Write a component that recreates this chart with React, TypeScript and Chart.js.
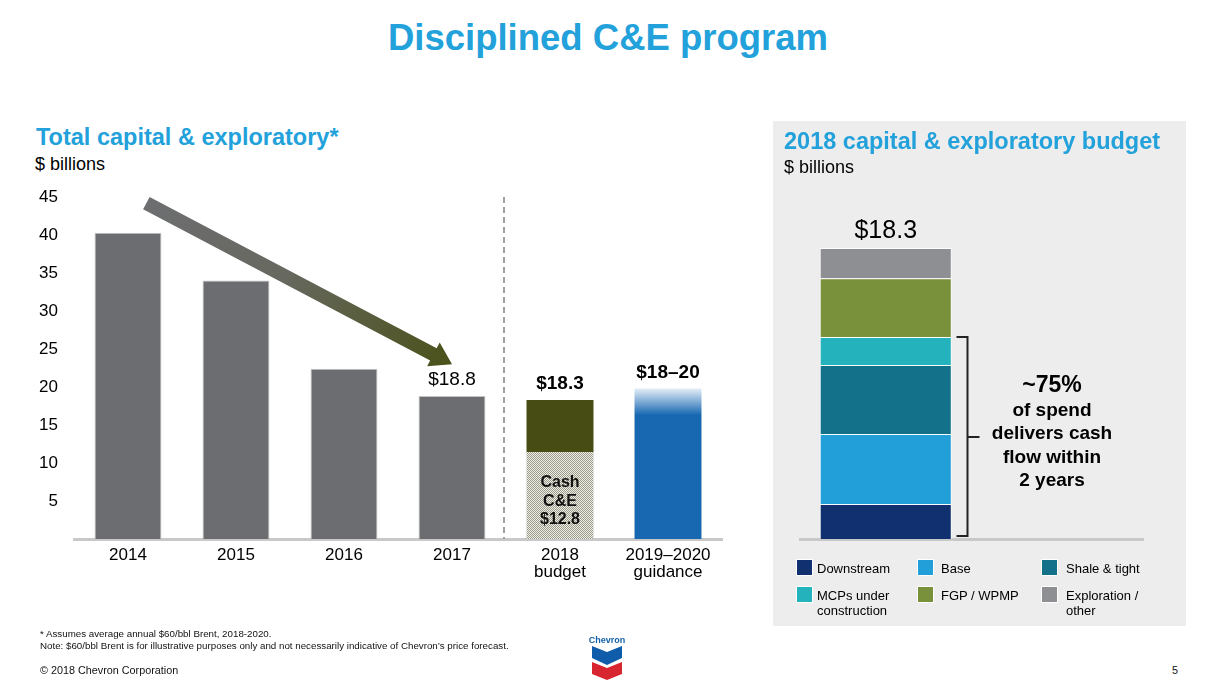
import React, { useEffect, useRef } from "react";
import { Chart, registerables } from "chart.js";
Chart.register(...registerables);

const FONT = "Arial, 'Liberation Sans', Helvetica, sans-serif";
const BLUE_TITLE = "#22a1db";

// ---------- Left chart data ----------
const periodLabels: string[][] = [["2014"], ["2015"], ["2016"], ["2017"], ["2018", "budget"], ["2019–2020", "guidance"]];
const yTicks = [5, 10, 15, 20, 25, 30, 35, 40, 45];
const actualSpend = [40.3, 34.0, 22.4, 18.8, null, null];
const budgetCashPart = [null, null, null, null, 11.4, null];
const budgetOtherPart = [null, null, null, null, 6.9, null];
const guidanceTop = [null, null, null, null, null, 19.8];
const guidanceSolidUpTo = 16.3;
const barValueLabels = ["", "", "", "$18.8", "$18.3", "$18–20"];
const barValueBold = [false, false, false, false, true, true];
const cashLabelLines = ["Cash", "C&E", "$12.8"];
const trendArrowFrom = { index: 0.17, value: 44.2 };
const trendArrowTo = { index: 3, value: 23.0 };

// ---------- Right chart data ----------
const budgetCategories = ["Downstream", "Base", "Shale & tight", "MCPs under construction", "FGP / WPMP", "Exploration / other"];
const budgetLegendLines = [["Downstream"], ["Base"], ["Shale & tight"], ["MCPs under", "construction"], ["FGP / WPMP"], ["Exploration /", "other"]];
const budgetValues = [2.2, 4.4, 4.35, 1.75, 3.7, 1.9];
const budgetColors = ["#10306f", "#229fd9", "#14718a", "#24b2bc", "#79913a", "#8d8f93"];
const budgetTotalLabel = "$18.3";
const bracketSegmentCount = 4;
const cashFlowText = ["~75%", "of spend", "delivers cash", "flow within", "2 years"];

const sumNum = (arr: (number | null)[]) => arr.reduce((a: number, b) => a + (b ?? 0), 0);

function makeDotPattern(ctx: CanvasRenderingContext2D) {
  const c = document.createElement("canvas");
  c.width = 2;
  c.height = 2;
  const p = c.getContext("2d")!;
  p.fillStyle = "#f0efe6";
  p.fillRect(0, 0, 2, 2);
  p.fillStyle = "#9a9a8c";
  p.fillRect(0, 0, 1, 1);
  p.fillRect(1, 1, 1, 1);
  return ctx.createPattern(c, "repeat")!;
}

const leftDecor = {
  id: "leftDecor",
  afterDatasetsDraw(chart: any) {
    const { ctx, chartArea, scales } = chart;
    const x = scales.x, y = scales.y;
    ctx.save();
    // dashed divider between actuals and outlook
    const dx = Math.round((x.getPixelForValue(3) + x.getPixelForValue(4)) / 2) - 2;
    ctx.strokeStyle = "#a0a0a0";
    ctx.lineWidth = 2;
    ctx.setLineDash([6, 4]);
    ctx.beginPath();
    ctx.moveTo(dx, chartArea.top);
    ctx.lineTo(dx, chartArea.bottom);
    ctx.stroke();
    ctx.setLineDash([]);

    // trend arrow
    const x0 = x.getPixelForValue(trendArrowFrom.index), y0 = y.getPixelForValue(trendArrowFrom.value);
    const x1 = x.getPixelForValue(trendArrowTo.index), y1 = y.getPixelForValue(trendArrowTo.value);
    const ang = Math.atan2(y1 - y0, x1 - x0);
    const len = Math.hypot(x1 - x0, y1 - y0);
    const shaftW = 14, headL = 21, headW = 27;
    ctx.save();
    ctx.translate(x0, y0);
    ctx.rotate(ang);
    const g = ctx.createLinearGradient(0, 0, len, 0);
    g.addColorStop(0, "#6d6e70");
    g.addColorStop(0.45, "#67685f");
    g.addColorStop(1, "#4a5119");
    ctx.fillStyle = g;
    ctx.beginPath();
    ctx.moveTo(0, -shaftW / 2);
    ctx.lineTo(len - headL, -shaftW / 2);
    ctx.lineTo(len - headL, -headW / 2);
    ctx.lineTo(len, 0);
    ctx.lineTo(len - headL, headW / 2);
    ctx.lineTo(len - headL, shaftW / 2);
    ctx.lineTo(0, shaftW / 2);
    ctx.closePath();
    ctx.fill();
    ctx.restore();

    // value labels
    ctx.fillStyle = "#000";
    ctx.textAlign = "center";
    ctx.textBaseline = "middle";
    barValueLabels.forEach((t, i) => {
      if (!t) return;
      const total = (actualSpend[i] ?? 0) + (budgetCashPart[i] ?? 0) + (budgetOtherPart[i] ?? 0) + (guidanceTop[i] ?? 0);
      ctx.font = `${barValueBold[i] ? "bold " : ""}19px ${FONT}`;
      ctx.fillText(t, x.getPixelForValue(i), y.getPixelForValue(total) - 16);
    });

    // cash label inside the 2018 bar
    const ci = budgetCashPart.findIndex((v) => v != null);
    const cy = y.getPixelForValue((budgetCashPart[ci] as number) / 2);
    ctx.font = `bold 16px ${FONT}`;
    ctx.fillStyle = "#111";
    cashLabelLines.forEach((t, k) => ctx.fillText(t, x.getPixelForValue(ci), cy - 13 + k * 18.5));
    ctx.restore();
  },
};

const rightDecor = {
  id: "rightDecor",
  afterDatasetsDraw(chart: any) {
    const { ctx, scales } = chart;
    const x = scales.x, y = scales.y;
    const total = sumNum(budgetValues);
    ctx.save();
    ctx.font = `25px ${FONT}`;
    ctx.fillStyle = "#000";
    ctx.textAlign = "center";
    ctx.textBaseline = "middle";
    ctx.fillText(budgetTotalLabel, x.getPixelForValue(0), y.getPixelForValue(total) - 17);

    const bar = chart.getDatasetMeta(0).data[0];
    const right = bar.x + bar.width / 2;
    const bx = Math.round(right + 15) + 0.5;
    const top = y.getPixelForValue(sumNum(budgetValues.slice(0, bracketSegmentCount)));
    const bottom = y.getPixelForValue(0) - 3;
    ctx.strokeStyle = "#222";
    ctx.lineWidth = 2;
    ctx.beginPath();
    ctx.moveTo(bx - 11, top);
    ctx.lineTo(bx, top);
    ctx.lineTo(bx, bottom);
    ctx.lineTo(bx - 11, bottom);
    const mid = Math.round((top + bottom) / 2);
    ctx.moveTo(bx, mid);
    ctx.lineTo(bx + 12, mid);
    ctx.stroke();
    ctx.restore();
  },
};

export default function App() {
  const leftRef = useRef<HTMLCanvasElement>(null);
  const rightRef = useRef<HTMLCanvasElement>(null);

  useEffect(() => {
    Chart.defaults.font.family = FONT;
    Chart.defaults.color = "#000";
    const lc = leftRef.current!;
    const rc = rightRef.current!;
    const pattern = makeDotPattern(lc.getContext("2d")!);
    const guidanceIdx = guidanceTop.findIndex((v) => v != null);

    const left = new Chart(lc, {
      type: "bar",
      data: {
        labels: periodLabels,
        datasets: [
          { label: "Actual", data: actualSpend, backgroundColor: "#6c6d70", borderColor: "#c4c4c4", borderWidth: 1, stack: "s" },
          { label: "Cash C&E", data: budgetCashPart, backgroundColor: pattern as any, stack: "s" },
          { label: "Other", data: budgetOtherPart, backgroundColor: "#474b14", stack: "s" },
          {
            label: "Guidance",
            data: guidanceTop,
            stack: "s",
            backgroundColor: (c: any) => {
              const chart = c.chart;
              if (!chart.chartArea) return "#1768b1";
              const ys = chart.scales.y;
              const top = ys.getPixelForValue(guidanceTop[guidanceIdx] as number);
              const solid = ys.getPixelForValue(guidanceSolidUpTo);
              const g = chart.ctx.createLinearGradient(0, top, 0, solid);
              g.addColorStop(0, "#e4eef8");
              g.addColorStop(1, "#1768b1");
              return g;
            },
          },
        ] as any,
      },
      options: {
        responsive: false,
        maintainAspectRatio: false,
        animation: false,
        datasets: { bar: { barPercentage: 0.62, categoryPercentage: 1 } },
        layout: { padding: { left: 0, top: 197, right: 18, bottom: 93 } },
        plugins: { legend: { display: false }, tooltip: { enabled: false } },
        scales: {
          x: {
            stacked: true,
            grid: { display: false, drawTicks: false },
            border: { display: true, color: "#c8c8c8", width: 3 },
            ticks: { color: "#000", font: { size: 17, lineHeight: 1.0 }, padding: 8, maxRotation: 0, autoSkip: false },
            afterFit: (s: any) => { s.height = 50; },
          },
          y: {
            stacked: true,
            min: 0,
            max: 45,
            afterBuildTicks: (s: any) => { s.ticks = yTicks.map((v) => ({ value: v })); },
            grid: { display: false, drawTicks: false },
            border: { display: false },
            ticks: { color: "#000", font: { size: 17 }, padding: 16 },
            afterFit: (s: any) => { s.width = 74; },
          },
        },
      } as any,
      plugins: [leftDecor],
    });

    const right = new Chart(rc, {
      type: "bar",
      data: {
        labels: ["2018", ""],
        datasets: budgetValues.map((v, i) => ({
          label: budgetCategories[i],
          data: [v, null],
          backgroundColor: budgetColors[i],
          borderColor: "rgba(255,255,255,0.85)",
          borderWidth: 1,
          stack: "b",
        })) as any,
      },
      options: {
        responsive: false,
        maintainAspectRatio: false,
        animation: false,
        datasets: { bar: { barPercentage: 0.77, categoryPercentage: 1 } },
        layout: { padding: { left: 27, top: 99, right: 43, bottom: 87 } },
        plugins: { legend: { display: false }, tooltip: { enabled: false } },
        scales: {
          x: {
            stacked: true,
            grid: { display: false, drawTicks: false },
            border: { display: true, color: "#c8c8c8", width: 3 },
            ticks: { display: false },
            afterFit: (s: any) => { s.height = 0; },
          },
          y: { stacked: true, display: false, min: 0, max: 20 },
        },
      } as any,
      plugins: [rightDecor],
    });

    return () => {
      left.destroy();
      right.destroy();
    };
  }, []);

  const abs = (extra: React.CSSProperties): React.CSSProperties => ({ position: "absolute", whiteSpace: "nowrap", ...extra });
  const legendColX = [796, 917, 1041];
  const legendTextOff = [21, 24, 25];
  const legendRowY = [559, 586];

  return (
    <div style={{ position: "absolute", left: 0, top: 0, width: 1208, height: 682, background: "#fff", overflow: "hidden", fontFamily: FONT, color: "#000" }}>
      <div style={abs({ left: 0, width: 1216, top: 20, lineHeight: "36px", fontSize: 36.5, fontWeight: "bold", color: BLUE_TITLE, textAlign: "center" })}>
        Disciplined C&amp;E program
      </div>

      <div style={abs({ left: 36, top: 122.5, lineHeight: "28px", fontSize: 23.5, fontWeight: "bold", color: BLUE_TITLE })}>
        Total capital &amp; exploratory*
      </div>
      <div style={abs({ left: 35, top: 152.5, lineHeight: "22px", fontSize: 18 })}>$ billions</div>

      <canvas ref={leftRef} width={740} height={682} style={{ position: "absolute", left: 0, top: 0, width: 740, height: 682 }} />

      <div style={{ position: "absolute", left: 773, top: 121, width: 413, height: 505, background: "#ededed" }} />
      <canvas ref={rightRef} width={413} height={504} style={{ position: "absolute", left: 773, top: 122, width: 413, height: 504 }} />

      <div style={abs({ left: 784, top: 126.5, lineHeight: "28px", fontSize: 23.5, fontWeight: "bold", color: BLUE_TITLE })}>
        2018 capital &amp; exploratory budget
      </div>
      <div style={abs({ left: 784, top: 156, lineHeight: "22px", fontSize: 18 })}>$ billions</div>

      {cashFlowText.map((t, k) => (
        <div
          key={t}
          style={abs({
            left: 952,
            width: 200,
            textAlign: "center",
            fontWeight: "bold",
            fontSize: k === 0 ? 23 : 19,
            lineHeight: "26px",
            top: (k === 0 ? 384 : 410 + (k - 1) * 23.3) - 13,
          })}
        >
          {t}
        </div>
      ))}

      {budgetLegendLines.map((lines, i) => {
        const col = i % 3;
        const row = Math.floor(i / 3);
        const x = legendColX[col];
        const y = legendRowY[row];
        return (
          <React.Fragment key={budgetCategories[i]}>
            <div style={{ position: "absolute", left: x, top: y, width: 15, height: 15, background: budgetColors[i], border: "1px solid #fff" }} />
            <div style={abs({ left: x + legendTextOff[col], top: y + 1.5, fontSize: 13, lineHeight: "15.5px" })}>
              {lines.map((l) => (
                <div key={l}>{l}</div>
              ))}
            </div>
          </React.Fragment>
        );
      })}

      <div style={abs({ left: 40, top: 628, fontSize: 9.75, lineHeight: "12px", color: "#111" })}>
        <div>* Assumes average annual $60/bbl Brent, 2018-2020.</div>
        <div>Note: $60/bbl Brent is for illustrative purposes only and not necessarily indicative of Chevron’s price forecast.</div>
      </div>
      <div style={abs({ left: 40, top: 663.5, fontSize: 10.8, lineHeight: "13px", color: "#111" })}>© 2018 Chevron Corporation</div>
      <div style={abs({ left: 1172, top: 663.5, fontSize: 10.8, lineHeight: "13px", color: "#111" })}>5</div>

      <svg style={{ position: "absolute", left: 588, top: 632, width: 38, height: 50 }} viewBox="588 632 38 50">
        <text x={607} y={643} textAnchor="middle" fontSize={9} fontWeight="bold" fill="#1461a8" fontFamily={FONT}>Chevron</text>
        <polygon points="592,646 607,652 622,646 622,658 607,665 592,658" fill="#0f5cab" />
        <polygon points="592,662 607,668 622,662 622,674 607,680 592,674" fill="#d7262f" />
      </svg>
    </div>
  );
}
